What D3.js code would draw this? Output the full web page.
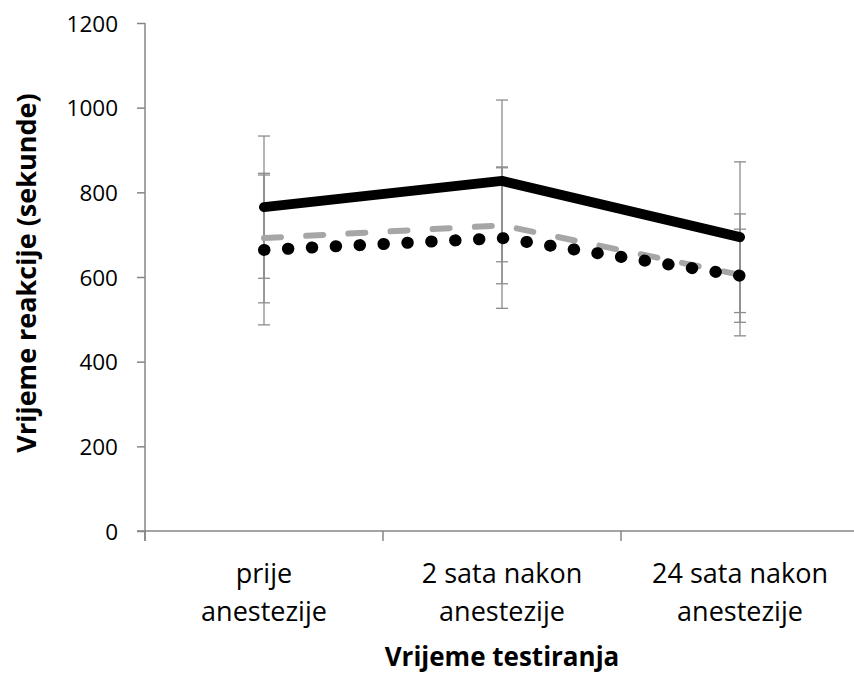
<!DOCTYPE html>
<html>
<head>
<meta charset="utf-8">
<script src="https://cdn.jsdelivr.net/npm/d3@7"></script>
<style>
  html, body { margin: 0; padding: 0; background: #fff; }
  svg { display: block; }
</style>
</head>
<body>
<svg id="chart" width="854" height="674"></svg>
<script>
// ---- data ----
const categories = ["prije anestezije", "2 sata nakon anestezije", "24 sata nakon anestezije"];
const categoryLines = [["prije", "anestezije"], ["2 sata nakon", "anestezije"], ["24 sata nakon", "anestezije"]];
const yTicks = [0, 200, 400, 600, 800, 1000, 1200];
const seriesSolid = [765, 827, 694];
const errSolid = [168, 191, 178];
const seriesDashed = [692, 722, 605];
const errDashed = [153, 138, 144];
const seriesDotted = [664, 692, 603];
const errDotted = [177, 166, 110];
const xTitle = "Vrijeme testiranja";
const yTitle = "Vrijeme reakcije (sekunde)";

(function () {
// ---- layout ----
const svg = d3.select("#chart");
const mLeft = 145, mRight = 859, mTop = 23, mBottom = 531;
const axisColor = "#868686";
const errColor = "#8c8c8c";
const font = "'Open Sans', 'Noto Sans', sans-serif";

const x = d3.scaleBand().domain(categories).range([mLeft, mRight]).padding(0);
const y = d3.scaleLinear().domain([0, 1200]).range([mBottom, mTop]);
const cx = c => x(c) + x.bandwidth() / 2;

// y axis
const yAxis = d3.axisLeft(y).tickValues(yTicks).tickSize(8).tickFormat(d3.format("d"));
const gy = svg.append("g").attr("transform", `translate(${mLeft},0)`).call(yAxis);
gy.select(".domain").attr("stroke", axisColor).attr("stroke-width", 1.5).attr("d", `M0,${mTop}V${mBottom + 10}`);
gy.selectAll(".tick line").attr("stroke", axisColor).attr("stroke-width", 1.5);
gy.selectAll(".tick text").attr("x", -27).attr("dy", "0.36em")
  .attr("font-family", font).attr("font-size", 22.5).attr("fill", "#000");

// x axis (ticks at category boundaries)
const boundaries = categories.map(c => x(c)).concat([mRight]);
const gx = svg.append("g");
gx.append("line").attr("x1", mLeft - 8).attr("x2", mRight).attr("y1", mBottom).attr("y2", mBottom)
  .attr("stroke", axisColor).attr("stroke-width", 1.5);
gx.selectAll("line.tk").data(boundaries).enter().append("line").attr("class", "tk")
  .attr("x1", d => d).attr("x2", d => d).attr("y1", mBottom).attr("y2", mBottom + 10)
  .attr("stroke", axisColor).attr("stroke-width", 1.5);

// category labels
const lab = svg.append("g");
categories.forEach((c, i) => {
  const t = lab.append("text").attr("text-anchor", "middle")
    .attr("font-family", font).attr("font-size", 27).attr("fill", "#000");
  categoryLines[i].forEach((ln, j) => {
    t.append("tspan").attr("x", cx(c)).attr("y", 583 + j * 38).text(ln);
  });
});

// titles
svg.append("text").attr("x", cx(categories[1])).attr("y", 666).attr("text-anchor", "middle")
  .attr("font-family", font).attr("font-weight", "bold").attr("font-size", 26).attr("fill", "#000").text(xTitle);
svg.append("text").attr("transform", `translate(36,${(mTop + mBottom) / 2 - 4}) rotate(-90)`)
  .attr("text-anchor", "middle").attr("font-family", font).attr("font-weight", "bold")
  .attr("font-size", 27).attr("fill", "#000").text(yTitle);

// error bars
const errGroups = [[seriesSolid, errSolid], [seriesDashed, errDashed], [seriesDotted, errDotted]];
const eg = svg.append("g");
errGroups.forEach(([vals, errs]) => {
  vals.forEach((v, i) => {
    const xc = cx(categories[i]);
    eg.append("line").attr("x1", xc).attr("x2", xc).attr("y1", y(v - errs[i])).attr("y2", y(v + errs[i]))
      .attr("stroke", errColor).attr("stroke-width", 1.3);
    [v - errs[i], v + errs[i]].forEach(e => {
      eg.append("line").attr("x1", xc - 6).attr("x2", xc + 6).attr("y1", y(e)).attr("y2", y(e))
        .attr("stroke", errColor).attr("stroke-width", 1.3);
    });
  });
});

// lines
const line = d3.line().x((d, i) => cx(categories[i])).y(d => y(d));
const dashed = svg.append("path").datum(seriesDashed).attr("d", line).attr("fill", "none")
  .attr("stroke", "#a6a6a6").attr("stroke-width", 6).attr("stroke-linecap", "round");
const Ld = dashed.node().getTotalLength();
const nd = Math.round((Ld - 17) / 41);
const pd = (Ld - 17) / nd;
dashed.attr("stroke-dasharray", `17,${pd - 17}`);

const dotted = svg.append("path").datum(seriesDotted).attr("d", line).attr("fill", "none")
  .attr("stroke", "#000").attr("stroke-width", 12).attr("stroke-linecap", "round");
const Lo = dotted.node().getTotalLength();
const no = Math.round(Lo / 24);
const po = (Lo - 1) / no;
dotted.attr("stroke-dasharray", `0.5,${po - 0.5}`);

svg.append("path").datum(seriesSolid).attr("d", line).attr("fill", "none")
  .attr("stroke", "#000").attr("stroke-width", 10).attr("stroke-linecap", "round")
  .attr("stroke-linejoin", "round");
})();
</script>
</body>
</html>
